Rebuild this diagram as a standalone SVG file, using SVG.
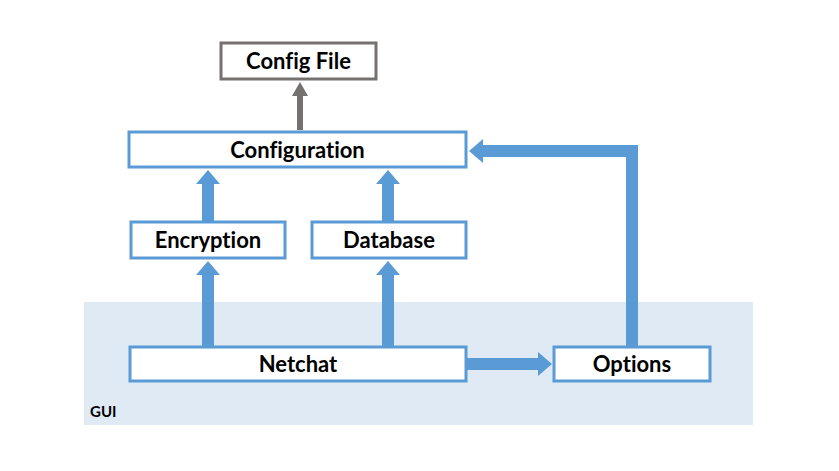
<svg xmlns="http://www.w3.org/2000/svg" width="839" height="471" viewBox="0 0 839 471">
<defs>
<style>
.box{fill:#fff;stroke:#5b9bd5;stroke-width:3}
.gbox{fill:#fff;stroke:#767171;stroke-width:3}
.lbl{font-family:Lato,"Open Sans",sans-serif;font-weight:bold;font-size:22px;fill:#000;text-anchor:middle;font-variant-ligatures:none}
.blue{fill:none;stroke:#5b9bd5;stroke-width:12;stroke-linejoin:miter}
.gray{fill:none;stroke:#767171;stroke-width:6}
</style>
<marker id="ah" markerUnits="userSpaceOnUse" markerWidth="14" markerHeight="24" viewBox="0 0 14 24" refX="0" refY="12" orient="auto"><path d="M0,0L14,12L0,24z" fill="#5b9bd5"/></marker>
<marker id="ag" markerUnits="userSpaceOnUse" markerWidth="14" markerHeight="16" viewBox="0 0 14 16" refX="0" refY="8" orient="auto"><path d="M0,0L14,8L0,16z" fill="#767171"/></marker>
</defs>
<rect width="839" height="471" fill="#fff"/>
<g id="gui">
<rect x="84" y="302" width="669" height="123" fill="#dfeaf5"/>
<text x="90" y="417" style="font-family:Lato,sans-serif;font-weight:bold;font-size:15px">GUI</text>
</g>
<g id="connectors">
<path class="gray" d="M300,130V96" marker-end="url(#ag)"/>
<path class="blue" d="M208,221V184" marker-end="url(#ah)"/>
<path class="blue" d="M388,221V184" marker-end="url(#ah)"/>
<path class="blue" d="M208,347V275" marker-end="url(#ah)"/>
<path class="blue" d="M388,347V275" marker-end="url(#ah)"/>
<path class="blue" d="M466,364H538" marker-end="url(#ah)"/>
<path class="blue" d="M632,347V151H483" marker-end="url(#ah)"/>
</g>
<g id="configfile"><rect class="gbox" x="221" y="43" width="155" height="36"/><text class="lbl" x="298.5" y="69">Config File</text></g>
<g id="configuration"><rect class="box" x="129" y="132" width="337" height="35"/><text class="lbl" x="297.5" y="158">Configuration</text></g>
<g id="encryption"><rect class="box" x="131" y="222" width="154" height="36"/><text class="lbl" x="208" y="248">Encryption</text></g>
<g id="database"><rect class="box" x="312" y="222" width="154" height="36"/><text class="lbl" x="389" y="248">Database</text></g>
<g id="netchat"><rect class="box" x="130" y="347" width="336" height="34"/><text class="lbl" x="298" y="372">Netchat</text></g>
<g id="options"><rect class="box" x="554" y="347" width="156" height="34"/><text class="lbl" x="632" y="372">Options</text></g>
</svg>
